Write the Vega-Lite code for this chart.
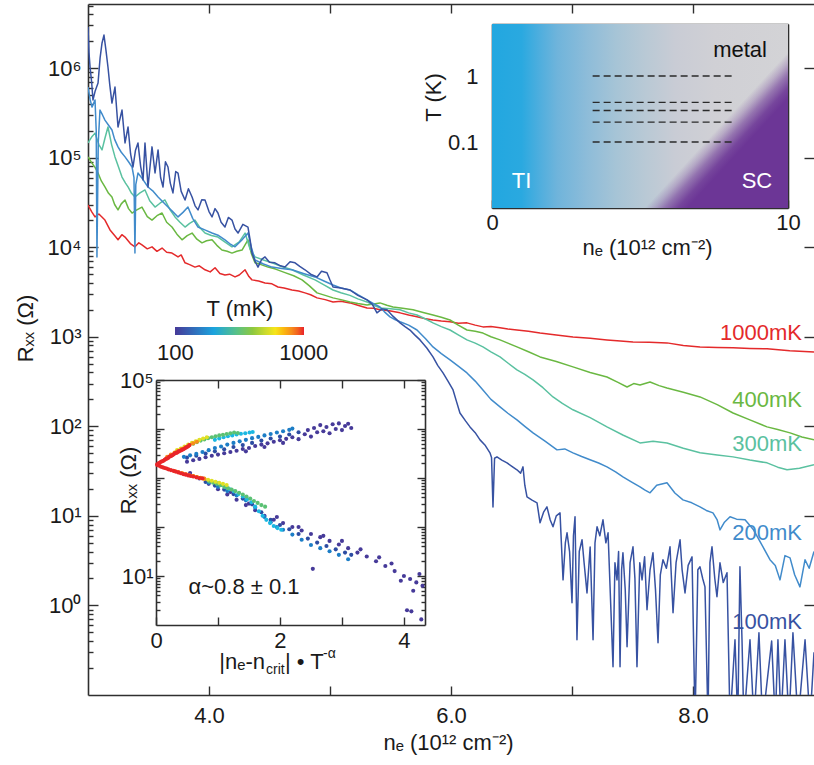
{
"$schema": "https://vega.github.io/schema/vega-lite/v6.json",
"width": 726, "height": 691,
"autosize": {"type": "none"},
"padding": {"left": 88, "top": 4, "right": 0, "bottom": 70},
"background": "white",
"config": {
 "view": {"stroke": null},
 "font": "Liberation Sans",
 "axis": {"domainColor": "#2f2f2f", "domainWidth": 1.6, "tickColor": "#2f2f2f", "tickWidth": 1.4, "labelColor": "#1a1a1a", "titleColor": "#1a1a1a", "labelFontSize": 22, "titleFontSize": 22, "titleFontWeight": "normal", "labelFont": "Liberation Sans", "titleFont": "Liberation Sans", "grid": false, "zindex": 1}
},
"datasets": {
 "curves": [
  {"T":1000,"ne":3.0,"R":29600},{"T":1000,"ne":3.03,"R":25000},{"T":1000,"ne":3.058,"R":21800},{"T":1000,"ne":3.09,"R":23500},{"T":1000,"ne":3.14,"R":20100},{"T":1000,"ne":3.182,"R":15600},{"T":1000,"ne":3.22,"R":13500},{"T":1000,"ne":3.248,"R":12100},{"T":1000,"ne":3.28,"R":13800},{"T":1000,"ne":3.306,"R":13000},{"T":1000,"ne":3.35,"R":11000},{"T":1000,"ne":3.388,"R":10100},{"T":1000,"ne":3.42,"R":11200},{"T":1000,"ne":3.446,"R":10600},{"T":1000,"ne":3.49,"R":9600},{"T":1000,"ne":3.529,"R":10100},{"T":1000,"ne":3.57,"R":9000},{"T":1000,"ne":3.612,"R":9800},{"T":1000,"ne":3.65,"R":8800},{"T":1000,"ne":3.694,"R":8600},{"T":1000,"ne":3.744,"R":7800},{"T":1000,"ne":3.77,"R":8200},{"T":1000,"ne":3.802,"R":6700},{"T":1000,"ne":3.84,"R":6400},{"T":1000,"ne":3.884,"R":6000},{"T":1000,"ne":3.92,"R":6200},{"T":1000,"ne":3.967,"R":5600},{"T":1000,"ne":4.01,"R":5300},{"T":1000,"ne":4.05,"R":5900},{"T":1000,"ne":4.09,"R":5100},{"T":1000,"ne":4.132,"R":4900},{"T":1000,"ne":4.17,"R":5000},{"T":1000,"ne":4.215,"R":4660},{"T":1000,"ne":4.25,"R":4900},{"T":1000,"ne":4.298,"R":5600},{"T":1000,"ne":4.33,"R":4700},{"T":1000,"ne":4.355,"R":4320},{"T":1000,"ne":4.41,"R":4200},{"T":1000,"ne":4.463,"R":3990},{"T":1000,"ne":4.52,"R":3900},{"T":1000,"ne":4.57,"R":3600},{"T":1000,"ne":4.62,"R":3500},{"T":1000,"ne":4.686,"R":3330},{"T":1000,"ne":4.74,"R":3250},{"T":1000,"ne":4.793,"R":3090},{"T":1000,"ne":4.84,"R":2950},{"T":1000,"ne":4.893,"R":2720},{"T":1000,"ne":4.96,"R":2600},{"T":1000,"ne":5.025,"R":2450},{"T":1000,"ne":5.09,"R":2500},{"T":1000,"ne":5.165,"R":2390},{"T":1000,"ne":5.23,"R":2250},{"T":1000,"ne":5.306,"R":2100},{"T":1000,"ne":5.36,"R":2080},{"T":1000,"ne":5.413,"R":2000},{"T":1000,"ne":5.49,"R":1950},{"T":1000,"ne":5.579,"R":1850},{"T":1000,"ne":5.65,"R":1750},{"T":1000,"ne":5.719,"R":1670},{"T":1000,"ne":5.78,"R":1600},{"T":1000,"ne":5.851,"R":1540},{"T":1000,"ne":5.92,"R":1500},{"T":1000,"ne":5.992,"R":1470},{"T":1000,"ne":6.06,"R":1420},{"T":1000,"ne":6.132,"R":1430},{"T":1000,"ne":6.2,"R":1350},{"T":1000,"ne":6.264,"R":1290},{"T":1000,"ne":6.33,"R":1300},{"T":1000,"ne":6.405,"R":1260},{"T":1000,"ne":6.47,"R":1220},{"T":1000,"ne":6.545,"R":1190},{"T":1000,"ne":6.64,"R":1150},{"T":1000,"ne":6.736,"R":1100},{"T":1000,"ne":6.87,"R":1050},{"T":1000,"ne":7.008,"R":995},{"T":1000,"ne":7.15,"R":960},{"T":1000,"ne":7.289,"R":923},{"T":1000,"ne":7.4,"R":900},{"T":1000,"ne":7.504,"R":877},{"T":1000,"ne":7.64,"R":870},{"T":1000,"ne":7.785,"R":855},{"T":1000,"ne":7.92,"R":800},{"T":1000,"ne":8.058,"R":771},{"T":1000,"ne":8.2,"R":760},{"T":1000,"ne":8.331,"R":752},{"T":1000,"ne":8.47,"R":740},{"T":1000,"ne":8.612,"R":733},{"T":1000,"ne":8.8,"R":700},{"T":1000,"ne":9.0,"R":678},
  {"T":400,"ne":3.0,"R":102000},{"T":400,"ne":3.033,"R":87000},{"T":400,"ne":3.058,"R":78000},{"T":400,"ne":3.083,"R":67400},{"T":400,"ne":3.11,"R":55000},{"T":400,"ne":3.14,"R":47100},{"T":400,"ne":3.17,"R":40000},{"T":400,"ne":3.198,"R":36400},{"T":400,"ne":3.22,"R":30000},{"T":400,"ne":3.248,"R":26100},{"T":400,"ne":3.275,"R":30500},{"T":400,"ne":3.306,"R":33700},{"T":400,"ne":3.335,"R":27000},{"T":400,"ne":3.364,"R":24100},{"T":400,"ne":3.4,"R":26000},{"T":400,"ne":3.446,"R":28100},{"T":400,"ne":3.49,"R":22000},{"T":400,"ne":3.529,"R":20100},{"T":400,"ne":3.57,"R":22500},{"T":400,"ne":3.612,"R":24100},{"T":400,"ne":3.65,"R":19000},{"T":400,"ne":3.694,"R":16800},{"T":400,"ne":3.735,"R":14000},{"T":400,"ne":3.777,"R":12100},{"T":400,"ne":3.82,"R":13500},{"T":400,"ne":3.86,"R":14400},{"T":400,"ne":3.9,"R":12300},{"T":400,"ne":3.942,"R":11200},{"T":400,"ne":3.98,"R":11800},{"T":400,"ne":4.025,"R":12100},{"T":400,"ne":4.065,"R":10500},{"T":400,"ne":4.107,"R":9300},{"T":400,"ne":4.15,"R":9000},{"T":400,"ne":4.19,"R":8600},{"T":400,"ne":4.23,"R":9000},{"T":400,"ne":4.273,"R":9300},{"T":400,"ne":4.322,"R":12100},{"T":400,"ne":4.35,"R":8500},{"T":400,"ne":4.38,"R":6700},{"T":400,"ne":4.43,"R":6400},{"T":400,"ne":4.488,"R":6000},{"T":400,"ne":4.55,"R":5700},{"T":400,"ne":4.628,"R":5200},{"T":400,"ne":4.7,"R":4800},{"T":400,"ne":4.769,"R":4320},{"T":400,"ne":4.83,"R":3700},{"T":400,"ne":4.893,"R":3090},{"T":400,"ne":4.96,"R":2900},{"T":400,"ne":5.025,"R":2720},{"T":400,"ne":5.09,"R":2600},{"T":400,"ne":5.165,"R":2450},{"T":400,"ne":5.23,"R":2350},{"T":400,"ne":5.306,"R":2270},{"T":400,"ne":5.36,"R":2330},{"T":400,"ne":5.413,"R":2390},{"T":400,"ne":5.47,"R":2250},{"T":400,"ne":5.521,"R":2150},{"T":400,"ne":5.6,"R":2080},{"T":400,"ne":5.686,"R":2000},{"T":400,"ne":5.77,"R":1870},{"T":400,"ne":5.851,"R":1750},{"T":400,"ne":5.92,"R":1650},{"T":400,"ne":5.992,"R":1540},{"T":400,"ne":6.06,"R":1350},{"T":400,"ne":6.132,"R":1190},{"T":400,"ne":6.2,"R":1150},{"T":400,"ne":6.264,"R":1100},{"T":400,"ne":6.33,"R":1000},{"T":400,"ne":6.405,"R":923},{"T":400,"ne":6.47,"R":850},{"T":400,"ne":6.545,"R":771},{"T":400,"ne":6.64,"R":680},{"T":400,"ne":6.736,"R":596},{"T":400,"ne":6.87,"R":530},{"T":400,"ne":7.008,"R":461},{"T":400,"ne":7.15,"R":400},{"T":400,"ne":7.289,"R":356},{"T":400,"ne":7.38,"R":310},{"T":400,"ne":7.455,"R":275},{"T":400,"ne":7.51,"R":300},{"T":400,"ne":7.562,"R":290},{"T":400,"ne":7.645,"R":313},{"T":400,"ne":7.72,"R":285},{"T":400,"ne":7.785,"R":268},{"T":400,"ne":7.92,"R":240},{"T":400,"ne":8.058,"R":213},{"T":400,"ne":8.2,"R":175},{"T":400,"ne":8.331,"R":141},{"T":400,"ne":8.47,"R":118},{"T":400,"ne":8.612,"R":98.6},{"T":400,"ne":8.7,"R":92},{"T":400,"ne":8.802,"R":84.5},{"T":400,"ne":8.9,"R":76},{"T":400,"ne":9.0,"R":70.6},
  {"T":300,"ne":3.0,"R":146000},{"T":300,"ne":3.03,"R":170000},{"T":300,"ne":3.058,"R":188000},{"T":300,"ne":3.09,"R":140000},{"T":300,"ne":3.116,"R":122000},{"T":300,"ne":3.14,"R":165000},{"T":300,"ne":3.165,"R":220000},{"T":300,"ne":3.195,"R":140000},{"T":300,"ne":3.223,"R":102000},{"T":300,"ne":3.25,"R":80000},{"T":300,"ne":3.281,"R":60800},{"T":300,"ne":3.31,"R":52000},{"T":300,"ne":3.331,"R":47100},{"T":300,"ne":3.36,"R":40000},{"T":300,"ne":3.388,"R":36400},{"T":300,"ne":3.43,"R":40500},{"T":300,"ne":3.471,"R":43600},{"T":300,"ne":3.51,"R":33000},{"T":300,"ne":3.554,"R":28100},{"T":300,"ne":3.595,"R":31000},{"T":300,"ne":3.636,"R":33700},{"T":300,"ne":3.68,"R":26000},{"T":300,"ne":3.719,"R":21800},{"T":300,"ne":3.76,"R":19000},{"T":300,"ne":3.802,"R":16800},{"T":300,"ne":3.84,"R":18500},{"T":300,"ne":3.884,"R":20100},{"T":300,"ne":3.925,"R":16500},{"T":300,"ne":3.967,"R":14400},{"T":300,"ne":4.02,"R":13500},{"T":300,"ne":4.074,"R":13000},{"T":300,"ne":4.13,"R":11500},{"T":300,"ne":4.19,"R":10100},{"T":300,"ne":4.25,"R":11500},{"T":300,"ne":4.298,"R":14400},{"T":300,"ne":4.34,"R":9500},{"T":300,"ne":4.38,"R":7800},{"T":300,"ne":4.45,"R":7200},{"T":300,"ne":4.521,"R":6700},{"T":300,"ne":4.6,"R":6100},{"T":300,"ne":4.686,"R":5600},{"T":300,"ne":4.78,"R":4900},{"T":300,"ne":4.876,"R":4320},{"T":300,"ne":4.95,"R":3800},{"T":300,"ne":5.025,"R":3330},{"T":300,"ne":5.09,"R":3100},{"T":300,"ne":5.165,"R":2900},{"T":300,"ne":5.23,"R":2650},{"T":300,"ne":5.306,"R":2450},{"T":300,"ne":5.36,"R":2250},{"T":300,"ne":5.413,"R":2100},{"T":300,"ne":5.5,"R":2050},{"T":300,"ne":5.579,"R":2000},{"T":300,"ne":5.65,"R":1850},{"T":300,"ne":5.719,"R":1750},{"T":300,"ne":5.79,"R":1580},{"T":300,"ne":5.851,"R":1430},{"T":300,"ne":5.92,"R":1300},{"T":300,"ne":5.992,"R":1190},{"T":300,"ne":6.06,"R":1050},{"T":300,"ne":6.132,"R":923},{"T":300,"ne":6.2,"R":850},{"T":300,"ne":6.264,"R":771},{"T":300,"ne":6.33,"R":680},{"T":300,"ne":6.405,"R":596},{"T":300,"ne":6.47,"R":510},{"T":300,"ne":6.545,"R":427},{"T":300,"ne":6.61,"R":380},{"T":300,"ne":6.678,"R":330},{"T":300,"ne":6.76,"R":270},{"T":300,"ne":6.843,"R":213},{"T":300,"ne":6.92,"R":180},{"T":300,"ne":7.008,"R":153},{"T":300,"ne":7.15,"R":125},{"T":300,"ne":7.289,"R":98.6},{"T":300,"ne":7.42,"R":80},{"T":300,"ne":7.562,"R":65.3},{"T":300,"ne":7.67,"R":68},{"T":300,"ne":7.785,"R":65.3},{"T":300,"ne":7.92,"R":57},{"T":300,"ne":8.058,"R":50.6},{"T":300,"ne":8.2,"R":48},{"T":300,"ne":8.331,"R":45.6},{"T":300,"ne":8.47,"R":42},{"T":300,"ne":8.612,"R":39.1},{"T":300,"ne":8.7,"R":35},{"T":300,"ne":8.777,"R":32.7},{"T":300,"ne":8.88,"R":34},{"T":300,"ne":9.0,"R":37.2},
  {"T":200,"ne":3.0,"R":615000},{"T":200,"ne":3.017,"R":450000},{"T":200,"ne":3.033,"R":367000},{"T":200,"ne":3.058,"R":440000},{"T":200,"ne":3.068,"R":200000},{"T":200,"ne":3.074,"R":7800},{"T":200,"ne":3.085,"R":150000},{"T":200,"ne":3.099,"R":340000},{"T":200,"ne":3.12,"R":300000},{"T":200,"ne":3.14,"R":263000},{"T":200,"ne":3.17,"R":230000},{"T":200,"ne":3.198,"R":204000},{"T":200,"ne":3.22,"R":160000},{"T":200,"ne":3.248,"R":132000},{"T":200,"ne":3.275,"R":115000},{"T":200,"ne":3.306,"R":102000},{"T":200,"ne":3.335,"R":90000},{"T":200,"ne":3.364,"R":78700},{"T":200,"ne":3.38,"R":60000},{"T":200,"ne":3.388,"R":8600},{"T":200,"ne":3.395,"R":50000},{"T":200,"ne":3.413,"R":67400},{"T":200,"ne":3.45,"R":58000},{"T":200,"ne":3.496,"R":47100},{"T":200,"ne":3.54,"R":42000},{"T":200,"ne":3.579,"R":36400},{"T":200,"ne":3.62,"R":32000},{"T":200,"ne":3.661,"R":28100},{"T":200,"ne":3.7,"R":25000},{"T":200,"ne":3.744,"R":21800},{"T":200,"ne":3.785,"R":24500},{"T":200,"ne":3.826,"R":28100},{"T":200,"ne":3.865,"R":21000},{"T":200,"ne":3.909,"R":16800},{"T":200,"ne":3.97,"R":15500},{"T":200,"ne":4.025,"R":14400},{"T":200,"ne":4.08,"R":13500},{"T":200,"ne":4.132,"R":12100},{"T":200,"ne":4.17,"R":11000},{"T":200,"ne":4.215,"R":10100},{"T":200,"ne":4.27,"R":12000},{"T":200,"ne":4.322,"R":14400},{"T":200,"ne":4.35,"R":10000},{"T":200,"ne":4.38,"R":7200},{"T":200,"ne":4.45,"R":6500},{"T":200,"ne":4.521,"R":6000},{"T":200,"ne":4.6,"R":5800},{"T":200,"ne":4.686,"R":5600},{"T":200,"ne":4.78,"R":5100},{"T":200,"ne":4.876,"R":4660},{"T":200,"ne":4.95,"R":4200},{"T":200,"ne":5.025,"R":3790},{"T":200,"ne":5.09,"R":3500},{"T":200,"ne":5.165,"R":3330},{"T":200,"ne":5.23,"R":2950},{"T":200,"ne":5.306,"R":2580},{"T":200,"ne":5.36,"R":2350},{"T":200,"ne":5.413,"R":2150},{"T":200,"ne":5.45,"R":1900},{"T":200,"ne":5.496,"R":1670},{"T":200,"ne":5.54,"R":1550},{"T":200,"ne":5.579,"R":1470},{"T":200,"ne":5.65,"R":1350},{"T":200,"ne":5.719,"R":1190},{"T":200,"ne":5.79,"R":950},{"T":200,"ne":5.851,"R":771},{"T":200,"ne":5.92,"R":650},{"T":200,"ne":5.992,"R":552},{"T":200,"ne":6.06,"R":470},{"T":200,"ne":6.132,"R":395},{"T":200,"ne":6.2,"R":320},{"T":200,"ne":6.264,"R":255},{"T":200,"ne":6.33,"R":200},{"T":200,"ne":6.405,"R":165},{"T":200,"ne":6.47,"R":140},{"T":200,"ne":6.545,"R":118},{"T":200,"ne":6.61,"R":100},{"T":200,"ne":6.678,"R":84.5},{"T":200,"ne":6.78,"R":68},{"T":200,"ne":6.876,"R":54.6},{"T":200,"ne":6.94,"R":56},{"T":200,"ne":7.008,"R":50.6},{"T":200,"ne":7.08,"R":46},{"T":200,"ne":7.149,"R":42.3},{"T":200,"ne":7.22,"R":39},{"T":200,"ne":7.289,"R":35.3},{"T":200,"ne":7.36,"R":31},{"T":200,"ne":7.421,"R":27.3},{"T":200,"ne":7.49,"R":24},{"T":200,"ne":7.562,"R":21.1},{"T":200,"ne":7.6,"R":19.5},{"T":200,"ne":7.645,"R":18.1},{"T":200,"ne":7.7,"R":22},{"T":200,"ne":7.785,"R":23.4},{"T":200,"ne":7.85,"R":18},{"T":200,"ne":7.917,"R":15.1},{"T":200,"ne":7.99,"R":14},{"T":200,"ne":8.058,"R":12.6},{"T":200,"ne":8.11,"R":11.5},{"T":200,"ne":8.165,"R":10.8},{"T":200,"ne":8.2,"R":9},{"T":200,"ne":8.223,"R":6.98},{"T":200,"ne":8.26,"R":8.5},{"T":200,"ne":8.306,"R":9.77},{"T":200,"ne":8.36,"R":9.2},{"T":200,"ne":8.43,"R":9.04},{"T":200,"ne":8.5,"R":7},{"T":200,"ne":8.56,"R":5},{"T":200,"ne":8.636,"R":3.24},{"T":200,"ne":8.68,"R":2.8},{"T":200,"ne":8.719,"R":1.93},{"T":200,"ne":8.76,"R":3.6},{"T":200,"ne":8.802,"R":3.4},{"T":200,"ne":8.84,"R":2.2},{"T":200,"ne":8.884,"R":1.61},{"T":200,"ne":8.926,"R":3.24},{"T":200,"ne":8.96,"R":2.6},{"T":200,"ne":9.0,"R":4.0},
  {"T":100,"ne":3.0,"R":2870000},{"T":100,"ne":3.008,"R":1500000},{"T":100,"ne":3.017,"R":1030000},{"T":100,"ne":3.03,"R":700000},{"T":100,"ne":3.041,"R":440000},{"T":100,"ne":3.06,"R":560000},{"T":100,"ne":3.083,"R":681000},{"T":100,"ne":3.1,"R":1300000},{"T":100,"ne":3.116,"R":1910000},{"T":100,"ne":3.132,"R":2340000},{"T":100,"ne":3.148,"R":1600000},{"T":100,"ne":3.165,"R":1030000},{"T":100,"ne":3.18,"R":650000},{"T":100,"ne":3.198,"R":407000},{"T":100,"ne":3.223,"R":615000},{"T":100,"ne":3.248,"R":220000},{"T":100,"ne":3.281,"R":340000},{"T":100,"ne":3.306,"R":146000},{"T":100,"ne":3.331,"R":220000},{"T":100,"ne":3.352,"R":110000},{"T":100,"ne":3.372,"R":78700},{"T":100,"ne":3.392,"R":120000},{"T":100,"ne":3.413,"R":146000},{"T":100,"ne":3.435,"R":80000},{"T":100,"ne":3.455,"R":56400},{"T":100,"ne":3.471,"R":146000},{"T":100,"ne":3.496,"R":47100},{"T":100,"ne":3.529,"R":132000},{"T":100,"ne":3.554,"R":67400},{"T":100,"ne":3.579,"R":122000},{"T":100,"ne":3.6,"R":60000},{"T":100,"ne":3.62,"R":47100},{"T":100,"ne":3.64,"R":90000},{"T":100,"ne":3.661,"R":78700},{"T":100,"ne":3.68,"R":52000},{"T":100,"ne":3.702,"R":40400},{"T":100,"ne":3.725,"R":70000},{"T":100,"ne":3.744,"R":67400},{"T":100,"ne":3.77,"R":42000},{"T":100,"ne":3.802,"R":33700},{"T":100,"ne":3.83,"R":45000},{"T":100,"ne":3.86,"R":36400},{"T":100,"ne":3.885,"R":29000},{"T":100,"ne":3.909,"R":26100},{"T":100,"ne":3.94,"R":34000},{"T":100,"ne":3.967,"R":33700},{"T":100,"ne":4.0,"R":25000},{"T":100,"ne":4.025,"R":21800},{"T":100,"ne":4.05,"R":27000},{"T":100,"ne":4.074,"R":24100},{"T":100,"ne":4.1,"R":19000},{"T":100,"ne":4.132,"R":16800},{"T":100,"ne":4.16,"R":21500},{"T":100,"ne":4.19,"R":20100},{"T":100,"ne":4.215,"R":16000},{"T":100,"ne":4.24,"R":14400},{"T":100,"ne":4.28,"R":18000},{"T":100,"ne":4.322,"R":16800},{"T":100,"ne":4.34,"R":12000},{"T":100,"ne":4.355,"R":8600},{"T":100,"ne":4.38,"R":7000},{"T":100,"ne":4.405,"R":6000},{"T":100,"ne":4.435,"R":7300},{"T":100,"ne":4.463,"R":7800},{"T":100,"ne":4.5,"R":6800},{"T":100,"ne":4.545,"R":6700},{"T":100,"ne":4.59,"R":6200},{"T":100,"ne":4.628,"R":6000},{"T":100,"ne":4.67,"R":6900},{"T":100,"ne":4.711,"R":6700},{"T":100,"ne":4.75,"R":6100},{"T":100,"ne":4.793,"R":5600},{"T":100,"ne":4.84,"R":5000},{"T":100,"ne":4.893,"R":4660},{"T":100,"ne":4.93,"R":5400},{"T":100,"ne":4.975,"R":5200},{"T":100,"ne":5.0,"R":4300},{"T":100,"ne":5.025,"R":3600},{"T":100,"ne":5.09,"R":3500},{"T":100,"ne":5.165,"R":3330},{"T":100,"ne":5.23,"R":2900},{"T":100,"ne":5.306,"R":2580},{"T":100,"ne":5.35,"R":2300},{"T":100,"ne":5.388,"R":1850},{"T":100,"ne":5.43,"R":2050},{"T":100,"ne":5.471,"R":2000},{"T":100,"ne":5.52,"R":1700},{"T":100,"ne":5.579,"R":1430},{"T":100,"ne":5.62,"R":1300},{"T":100,"ne":5.661,"R":1190},{"T":100,"ne":5.7,"R":1050},{"T":100,"ne":5.744,"R":923},{"T":100,"ne":5.8,"R":750},{"T":100,"ne":5.851,"R":596},{"T":100,"ne":5.89,"R":480},{"T":100,"ne":5.934,"R":395},{"T":100,"ne":5.975,"R":320},{"T":100,"ne":6.017,"R":255},{"T":100,"ne":6.045,"R":190},{"T":100,"ne":6.074,"R":141},{"T":100,"ne":6.12,"R":115},{"T":100,"ne":6.157,"R":98.6},{"T":100,"ne":6.2,"R":85},{"T":100,"ne":6.24,"R":70.6},{"T":100,"ne":6.28,"R":62},{"T":100,"ne":6.322,"R":50.6},{"T":100,"ne":6.335,"R":45},{"T":100,"ne":6.347,"R":12.6},{"T":100,"ne":6.36,"R":44},{"T":100,"ne":6.38,"R":45.6},{"T":100,"ne":6.42,"R":42},{"T":100,"ne":6.463,"R":39.1},{"T":100,"ne":6.5,"R":36},{"T":100,"ne":6.545,"R":32.7},{"T":100,"ne":6.575,"R":30},{"T":100,"ne":6.595,"R":35.3},{"T":100,"ne":6.61,"R":22},{"T":100,"ne":6.628,"R":16.3},{"T":100,"ne":6.67,"R":15},{"T":100,"ne":6.711,"R":14.0},{"T":100,"ne":6.736,"R":8.37},{"T":100,"ne":6.765,"R":11},{"T":100,"ne":6.793,"R":12.6},{"T":100,"ne":6.82,"R":9},{"T":100,"ne":6.843,"R":7.55},{"T":100,"ne":6.87,"R":10},{"T":100,"ne":6.901,"R":10.8},{"T":100,"ne":6.926,"R":1.93},{"T":100,"ne":6.945,"R":5},{"T":100,"ne":6.959,"R":6.47},{"T":100,"ne":6.98,"R":4},{"T":100,"ne":7.0,"R":1.07},{"T":100,"ne":7.012,"R":6},{"T":100,"ne":7.025,"R":9.77},{"T":100,"ne":7.041,"R":0.414},{"T":100,"ne":7.06,"R":4},{"T":100,"ne":7.083,"R":5.41},{"T":100,"ne":7.1,"R":3},{"T":100,"ne":7.124,"R":1.38},{"T":100,"ne":7.15,"R":4.5},{"T":100,"ne":7.174,"R":0.414},{"T":100,"ne":7.19,"R":5},{"T":100,"ne":7.207,"R":7.55},{"T":100,"ne":7.23,"R":6},{"T":100,"ne":7.256,"R":9.04},{"T":100,"ne":7.28,"R":5},{"T":100,"ne":7.298,"R":6.47},{"T":100,"ne":7.339,"R":0.207},{"T":100,"ne":7.355,"R":3},{"T":100,"ne":7.372,"R":1.93},{"T":100,"ne":7.385,"R":4},{"T":100,"ne":7.397,"R":0.207},{"T":100,"ne":7.41,"R":2.5},{"T":100,"ne":7.421,"R":3.87},{"T":100,"ne":7.44,"R":1.5},{"T":100,"ne":7.455,"R":0.346},{"T":100,"ne":7.48,"R":3},{"T":100,"ne":7.504,"R":4.52},{"T":100,"ne":7.52,"R":2},{"T":100,"ne":7.537,"R":0.207},{"T":100,"ne":7.56,"R":3},{"T":100,"ne":7.579,"R":1.93},{"T":100,"ne":7.6,"R":3.5},{"T":100,"ne":7.62,"R":0.895},{"T":100,"ne":7.645,"R":2.5},{"T":100,"ne":7.669,"R":3.87},{"T":100,"ne":7.69,"R":1.5},{"T":100,"ne":7.711,"R":0.383},{"T":100,"ne":7.73,"R":2.2},{"T":100,"ne":7.752,"R":3.24},{"T":100,"ne":7.78,"R":2.6},{"T":100,"ne":7.81,"R":4.52},{"T":100,"ne":7.835,"R":0.828},{"T":100,"ne":7.86,"R":3},{"T":100,"ne":7.893,"R":5.41},{"T":100,"ne":7.91,"R":2.5},{"T":100,"ne":7.934,"R":1.38},{"T":100,"ne":7.96,"R":2.8},{"T":100,"ne":7.992,"R":3.49},{"T":100,"ne":8.017,"R":0.05},{"T":100,"ne":8.04,"R":2.5},{"T":100,"ne":8.058,"R":2.7},{"T":100,"ne":8.08,"R":2},{"T":100,"ne":8.099,"R":1.61},{"T":100,"ne":8.124,"R":0.05},{"T":100,"ne":8.14,"R":3},{"T":100,"ne":8.157,"R":4.52},{"T":100,"ne":8.18,"R":2},{"T":100,"ne":8.198,"R":1.25},{"T":100,"ne":8.223,"R":2.99},{"T":100,"ne":8.25,"R":1.8},{"T":100,"ne":8.281,"R":2.32},{"T":100,"ne":8.306,"R":0.05},{"T":100,"ne":8.347,"R":0.414},{"T":100,"ne":8.37,"R":0.05},{"T":100,"ne":8.388,"R":2.7},{"T":100,"ne":8.405,"R":0.414},{"T":100,"ne":8.42,"R":0.05},{"T":100,"ne":8.471,"R":0.414},{"T":100,"ne":8.504,"R":0.05},{"T":100,"ne":8.545,"R":0.495},{"T":100,"ne":8.575,"R":0.05},{"T":100,"ne":8.65,"R":0.4},{"T":100,"ne":8.68,"R":0.05},{"T":100,"ne":8.702,"R":0.414},{"T":100,"ne":8.727,"R":0.05},{"T":100,"ne":8.76,"R":0.414},{"T":100,"ne":8.793,"R":0.05},{"T":100,"ne":8.826,"R":0.495},{"T":100,"ne":8.868,"R":0.05},{"T":100,"ne":8.926,"R":0.414},{"T":100,"ne":8.967,"R":0.05},{"T":100,"ne":9.0,"R":0.3}
 ],
 "lineLabels": [
  {"lab":"1000mK","T":1000,"ne":8.9,"R":1104},
  {"lab":"400mK","T":400,"ne":8.9,"R":197},
  {"lab":"300mK","T":300,"ne":8.9,"R":63.7},
  {"lab":"200mK","T":200,"ne":8.9,"R":6.47},
  {"lab":"100mK","T":100,"ne":8.9,"R":0.657}
 ],
 "phase": [{"n0":0,"n1":10,"t0":0.01,"t1":6.14}],
 "dashes": [
  {"T":1,"n0":3.4,"n1":8.15},{"T":0.4,"n0":3.4,"n1":8.15},{"T":0.3,"n0":3.4,"n1":8.15},{"T":0.2,"n0":3.4,"n1":8.15},{"T":0.1,"n0":3.4,"n1":8.15}
 ],
 "scatter": [
  {"T":100,"u":0.5,"R":2150},{"T":100,"u":0.6,"R":2300},{"T":100,"u":0.7,"R":2450},{"T":100,"u":0.8,"R":2650},{"T":100,"u":0.9,"R":2850},{"T":100,"u":1.0,"R":3000},{"T":100,"u":1.1,"R":3200},{"T":100,"u":1.2,"R":3400},{"T":100,"u":1.3,"R":3600},{"T":100,"u":1.4,"R":3900},{"T":100,"u":1.45,"R":3500},{"T":100,"u":1.5,"R":4100},{"T":100,"u":1.6,"R":4500},{"T":100,"u":1.7,"R":4800},{"T":100,"u":1.75,"R":4300},{"T":100,"u":1.8,"R":5100},{"T":100,"u":1.9,"R":5500},{"T":100,"u":2.0,"R":5900},{"T":100,"u":2.05,"R":5200},{"T":100,"u":2.1,"R":6300},{"T":100,"u":2.2,"R":6800},{"T":100,"u":2.3,"R":6200},{"T":100,"u":2.4,"R":7800},{"T":100,"u":2.45,"R":9500},{"T":100,"u":2.5,"R":7000},{"T":100,"u":2.55,"R":10500},{"T":100,"u":2.6,"R":8600},{"T":100,"u":2.65,"R":12000},{"T":100,"u":2.7,"R":9000},{"T":100,"u":2.75,"R":11000},{"T":100,"u":2.8,"R":8200},{"T":100,"u":2.85,"R":12500},{"T":100,"u":2.9,"R":10000},{"T":100,"u":2.95,"R":13000},{"T":100,"u":3.0,"R":9500},{"T":100,"u":3.05,"R":11500},{"T":100,"u":3.1,"R":12800},{"T":100,"u":3.15,"R":10500},
  {"T":100,"u":0.55,"R":1260},{"T":100,"u":0.7,"R":980},{"T":100,"u":0.85,"R":760},{"T":100,"u":1.0,"R":590},{"T":100,"u":1.15,"R":460},{"T":100,"u":1.2,"R":520},{"T":100,"u":1.3,"R":360},{"T":100,"u":1.45,"R":280},{"T":100,"u":1.5,"R":300},{"T":100,"u":1.6,"R":220},{"T":100,"u":1.75,"R":170},{"T":100,"u":1.9,"R":141},{"T":100,"u":1.95,"R":160},{"T":100,"u":2.05,"R":120},{"T":100,"u":2.2,"R":100},{"T":100,"u":2.3,"R":100},{"T":100,"u":2.35,"R":85},{"T":100,"u":2.5,"R":72},{"T":100,"u":2.53,"R":14},{"T":100,"u":2.65,"R":62},{"T":100,"u":2.7,"R":66},{"T":100,"u":2.8,"R":52},{"T":100,"u":2.95,"R":44},{"T":100,"u":3.0,"R":52},{"T":100,"u":3.1,"R":37},{"T":100,"u":3.25,"R":30},{"T":100,"u":3.3,"R":35},{"T":100,"u":3.4,"R":25},{"T":100,"u":3.55,"R":20},{"T":100,"u":3.6,"R":24},{"T":100,"u":3.7,"R":16},{"T":100,"u":3.8,"R":18},{"T":100,"u":3.85,"R":12.6},{"T":100,"u":3.95,"R":8},{"T":100,"u":4.0,"R":10},{"T":100,"u":4.05,"R":2.0},{"T":100,"u":4.1,"R":8.7},{"T":100,"u":4.12,"R":1.9},{"T":100,"u":4.15,"R":5},{"T":100,"u":4.2,"R":7.4},{"T":100,"u":4.25,"R":11},{"T":100,"u":4.28,"R":1.3},{"T":100,"u":4.3,"R":6.3},
  {"T":130,"u":0.5,"R":2600},{"T":130,"u":0.65,"R":2850},{"T":130,"u":0.8,"R":3150},{"T":130,"u":0.95,"R":3500},{"T":130,"u":1.1,"R":3850},{"T":130,"u":1.25,"R":4300},{"T":130,"u":1.4,"R":4700},{"T":130,"u":1.55,"R":5200},{"T":130,"u":1.7,"R":5800},{"T":130,"u":1.85,"R":6400},{"T":130,"u":2.0,"R":7000},{"T":130,"u":2.15,"R":7700},{"T":130,"u":2.3,"R":8600},
  {"T":130,"u":0.8,"R":830},{"T":130,"u":0.95,"R":700},{"T":130,"u":1.1,"R":580},{"T":130,"u":1.25,"R":470},{"T":130,"u":1.4,"R":380},{"T":130,"u":1.55,"R":290},{"T":130,"u":1.7,"R":200},{"T":130,"u":1.85,"R":140},{"T":130,"u":2.0,"R":110},{"T":130,"u":2.15,"R":90},{"T":130,"u":2.3,"R":72},{"T":130,"u":2.45,"R":58},{"T":130,"u":2.6,"R":48},{"T":130,"u":2.75,"R":41},{"T":130,"u":2.9,"R":35},{"T":130,"u":3.05,"R":30},{"T":130,"u":3.15,"R":27},
  {"T":170,"u":0.45,"R":2700},{"T":170,"u":0.55,"R":2900},{"T":170,"u":0.65,"R":3100},{"T":170,"u":0.75,"R":3400},{"T":170,"u":0.85,"R":3700},{"T":170,"u":0.95,"R":4100},{"T":170,"u":1.05,"R":4400},{"T":170,"u":1.15,"R":4800},{"T":170,"u":1.25,"R":5200},{"T":170,"u":1.35,"R":5600},{"T":170,"u":1.45,"R":6000},{"T":170,"u":1.55,"R":6500},{"T":170,"u":1.65,"R":6900},{"T":170,"u":1.75,"R":7400},{"T":170,"u":1.85,"R":7900},{"T":170,"u":1.95,"R":8500},{"T":170,"u":2.05,"R":9000},{"T":170,"u":2.15,"R":9600},{"T":170,"u":2.2,"R":10200},
  {"T":170,"u":0.85,"R":800},{"T":170,"u":1.0,"R":660},{"T":170,"u":1.15,"R":540},{"T":170,"u":1.3,"R":440},{"T":170,"u":1.45,"R":350},{"T":170,"u":1.6,"R":250},{"T":170,"u":1.75,"R":160},{"T":170,"u":1.85,"R":125},{"T":170,"u":1.95,"R":100},{"T":170,"u":2.05,"R":88},{"T":170,"u":2.2,"R":70},{"T":170,"u":2.35,"R":55},{"T":170,"u":2.5,"R":43},{"T":170,"u":2.65,"R":37},{"T":170,"u":2.8,"R":32},{"T":170,"u":2.95,"R":27},{"T":170,"u":3.1,"R":22},
  {"T":220,"u":0.95,"R":6000},{"T":220,"u":1.02,"R":6400},{"T":220,"u":1.09,"R":6800},{"T":220,"u":1.16,"R":7100},{"T":220,"u":1.23,"R":7400},{"T":220,"u":1.3,"R":7700},{"T":220,"u":1.37,"R":8000},{"T":220,"u":1.44,"R":8200},{"T":220,"u":1.51,"R":8500},{"T":220,"u":1.56,"R":8700},
  {"T":220,"u":0.98,"R":790},{"T":220,"u":1.05,"R":720},{"T":220,"u":1.12,"R":650},{"T":220,"u":1.19,"R":590},{"T":220,"u":1.26,"R":530},{"T":220,"u":1.33,"R":470},{"T":220,"u":1.4,"R":420},{"T":220,"u":1.47,"R":370},{"T":220,"u":1.54,"R":320},{"T":220,"u":1.6,"R":260},{"T":220,"u":1.66,"R":210},{"T":220,"u":1.72,"R":170},{"T":220,"u":1.78,"R":140},{"T":220,"u":1.84,"R":120},{"T":220,"u":1.9,"R":105},{"T":220,"u":1.96,"R":95},{"T":220,"u":2.02,"R":88},
  {"T":320,"u":0.6,"R":5000},{"T":320,"u":0.66,"R":5400},{"T":320,"u":0.72,"R":5800},{"T":320,"u":0.78,"R":6100},{"T":320,"u":0.84,"R":6500},{"T":320,"u":0.9,"R":6800},{"T":320,"u":0.96,"R":7100},{"T":320,"u":1.02,"R":7400},{"T":320,"u":1.08,"R":7600},{"T":320,"u":1.14,"R":7900},{"T":320,"u":1.2,"R":8200},{"T":320,"u":1.26,"R":8500},{"T":320,"u":1.32,"R":8300},
  {"T":320,"u":0.86,"R":850},{"T":320,"u":0.92,"R":800},{"T":320,"u":0.98,"R":760},{"T":320,"u":1.04,"R":710},{"T":320,"u":1.1,"R":660},{"T":320,"u":1.16,"R":620},{"T":320,"u":1.22,"R":580},{"T":320,"u":1.28,"R":540},{"T":320,"u":1.34,"R":500},{"T":320,"u":1.4,"R":460},{"T":320,"u":1.46,"R":420},{"T":320,"u":1.52,"R":380},{"T":320,"u":1.58,"R":340},{"T":320,"u":1.64,"R":310},{"T":320,"u":1.7,"R":280},{"T":320,"u":1.76,"R":260},
  {"T":550,"u":0.34,"R":3700},{"T":550,"u":0.4,"R":4000},{"T":550,"u":0.46,"R":4400},{"T":550,"u":0.52,"R":4800},{"T":550,"u":0.58,"R":5200},{"T":550,"u":0.64,"R":5600},{"T":550,"u":0.7,"R":6000},{"T":550,"u":0.76,"R":6400},{"T":550,"u":0.82,"R":6800},
  {"T":550,"u":0.6,"R":1100},{"T":550,"u":0.66,"R":1050},{"T":550,"u":0.72,"R":1000},{"T":550,"u":0.78,"R":960},{"T":550,"u":0.84,"R":920},{"T":550,"u":0.9,"R":880},{"T":550,"u":0.96,"R":840},{"T":550,"u":1.02,"R":800},{"T":550,"u":1.08,"R":760},{"T":550,"u":1.14,"R":720},
  {"T":800,"u":0.18,"R":2700},{"T":800,"u":0.24,"R":3000},{"T":800,"u":0.3,"R":3300},{"T":800,"u":0.36,"R":3600},{"T":800,"u":0.42,"R":3950},{"T":800,"u":0.48,"R":4300},{"T":800,"u":0.54,"R":4700},{"T":800,"u":0.6,"R":5100},{"T":800,"u":0.66,"R":5500},
  {"T":800,"u":0.3,"R":1380},{"T":800,"u":0.36,"R":1320},{"T":800,"u":0.42,"R":1260},{"T":800,"u":0.48,"R":1200},{"T":800,"u":0.54,"R":1140},{"T":800,"u":0.6,"R":1090},{"T":800,"u":0.66,"R":1050},{"T":800,"u":0.72,"R":1010},{"T":800,"u":0.78,"R":970},
  {"T":1000,"u":0.02,"R":1900},{"T":1000,"u":0.04,"R":2000},{"T":1000,"u":0.06,"R":2050},{"T":1000,"u":0.08,"R":2150},{"T":1000,"u":0.1,"R":2200},{"T":1000,"u":0.12,"R":2250},{"T":1000,"u":0.14,"R":2350},{"T":1000,"u":0.16,"R":2450},{"T":1000,"u":0.18,"R":2500},{"T":1000,"u":0.2,"R":2600},{"T":1000,"u":0.22,"R":2750},{"T":1000,"u":0.24,"R":2800},{"T":1000,"u":0.26,"R":2900},{"T":1000,"u":0.28,"R":3000},{"T":1000,"u":0.3,"R":3150},{"T":1000,"u":0.32,"R":3250},{"T":1000,"u":0.34,"R":3300},{"T":1000,"u":0.36,"R":3450},{"T":1000,"u":0.38,"R":3550},{"T":1000,"u":0.4,"R":3650},{"T":1000,"u":0.42,"R":3750},{"T":1000,"u":0.44,"R":3850},{"T":1000,"u":0.46,"R":4000},{"T":1000,"u":0.48,"R":4150},{"T":1000,"u":0.5,"R":4300},{"T":1000,"u":0.52,"R":4450},{"T":1000,"u":0.54,"R":4700},
  {"T":1000,"u":0.02,"R":1850},{"T":1000,"u":0.05,"R":1780},{"T":1000,"u":0.08,"R":1700},{"T":1000,"u":0.11,"R":1650},{"T":1000,"u":0.14,"R":1600},{"T":1000,"u":0.17,"R":1560},{"T":1000,"u":0.2,"R":1500},{"T":1000,"u":0.24,"R":1450},{"T":1000,"u":0.28,"R":1400},{"T":1000,"u":0.32,"R":1350},{"T":1000,"u":0.36,"R":1300},{"T":1000,"u":0.4,"R":1250},{"T":1000,"u":0.44,"R":1200},{"T":1000,"u":0.48,"R":1170},{"T":1000,"u":0.52,"R":1130},{"T":1000,"u":0.56,"R":1100},{"T":1000,"u":0.6,"R":1070},{"T":1000,"u":0.65,"R":1030},{"T":1000,"u":0.7,"R":1000},{"T":1000,"u":0.75,"R":980}
 ]
},
"layer": [
 {
  "resolve": {"axis": {"x": "independent", "y": "independent"}},
  "layer": [
   {
    "data": {"name": "curves"},
    "mark": {"type": "line", "clip": true, "strokeWidth": 1.5, "strokeJoin": "round"},
    "encoding": {
     "x": {"field": "ne", "type": "quantitative", "scale": {"domain": [3, 9], "nice": false, "zero": false},
      "axis": {"orient": "bottom", "values": [4,5,6,7,8], "labelExpr": "datum.value % 2 == 0 ? format(datum.value, '.1f') : ''", "tickSize": -9, "labelPadding": 19, "labelFlush": false, "labelOverlap": false, "title": "nₑ (10¹² cm⁻²)", "titleX": 360, "titleY": 47, "titleAlign": "center", "titleBaseline": "middle"}},
     "y": {"field": "R", "type": "quantitative", "scale": {"type": "log", "domain": [0.1, 5200000], "nice": false},
      "axis": {"orient": "left", "values": [1,10,100,1000,10000,100000,1000000],
       "labelExpr": "'10' + ['⁰','¹','²','³','⁴','⁵','⁶'][round(log(datum.value)/LN10)]",
       "tickSize": -10, "labelPadding": 17, "labelOverlap": false, "title": "Rₓₓ (Ω)", "titleX": -63, "titleY": 324, "titleAngle": -90, "titleAlign": "center", "titleBaseline": "middle"}},
     "color": {"field": "T", "type": "nominal", "scale": {"domain": [100,200,300,400,1000], "range": ["#3752a2","#418bcb","#5ac1a0","#6ab842","#e42a2b"]}, "legend": null}
    }
   },
   {
    "data": {"name": "lineLabels"},
    "mark": {"type": "text", "align": "right", "baseline": "middle", "fontSize": 22},
    "encoding": {
     "x": {"field": "ne", "type": "quantitative", "scale": {"domain": [3, 9], "nice": false, "zero": false}, "axis": null},
     "y": {"field": "R", "type": "quantitative", "scale": {"type": "log", "domain": [0.1, 5200000], "nice": false}, "axis": null},
     "text": {"field": "lab"},
     "color": {"field": "T", "type": "nominal", "scale": {"domain": [100,200,300,400,1000], "range": ["#3752a2","#418bcb","#5ac1a0","#6ab842","#e42a2b"]}, "legend": null}
    }
   },
   {
    "data": {"name": "lineLabels"},
    "mark": {"type": "point", "opacity": 0},
    "encoding": {
     "x": {"field": "ne", "type": "quantitative", "scale": {"domain": [3, 9], "nice": false, "zero": false},
      "axis": {"orient": "top", "values": [4,5,6,7,8], "labels": false, "tickSize": -9, "title": null}},
     "y": {"field": "R", "type": "quantitative", "scale": {"type": "log", "domain": [0.1, 5200000], "nice": false},
      "axis": {"orient": "right", "values": [1,10,100,1000,10000,100000,1000000], "labels": false, "tickSize": -10, "domain": false, "title": null}}
    }
   },
   {
    "data": {"name": "lineLabels"},
    "mark": {"type": "point", "opacity": 0},
    "encoding": {
     "x": {"field": "ne", "type": "quantitative", "scale": {"domain": [3, 9], "nice": false, "zero": false}, "axis": null},
     "y": {"field": "R", "type": "quantitative", "scale": {"type": "log", "domain": [0.1, 5200000], "nice": false},
      "axis": {"orient": "left", "values": [0.2,0.3,0.4,0.5,0.6,0.7,0.8,0.9,2,3,4,5,6,7,8,9,20,30,40,50,60,70,80,90,200,300,400,500,600,700,800,900,2000,3000,4000,5000,6000,7000,8000,9000,20000,30000,40000,50000,60000,70000,80000,90000,200000,300000,400000,500000,600000,700000,800000,900000,2000000,3000000,4000000,5000000], "labels": false, "tickSize": -5, "domain": false, "title": null}}
    }
   }
  ]
 },
 {
  "resolve": {"axis": {"x": "independent", "y": "independent"}},
  "layer": [
   {
    "data": {"name": "phase"},
    "mark": {"type": "rect", "color": {"gradient": "linear", "x1": 0, "y1": 0, "x2": 1, "y2": 0, "stops": [
      {"offset": 0, "color": "#22a7e0"}, {"offset": 0.1, "color": "#2aa9e0"}, {"offset": 0.16, "color": "#4eaede"}, {"offset": 0.22, "color": "#6fb4db"}, {"offset": 0.32, "color": "#8dbcd9"}, {"offset": 0.42, "color": "#a6c4d6"}, {"offset": 0.52, "color": "#b9c9d5"}, {"offset": 0.62, "color": "#c9ccd5"}, {"offset": 0.75, "color": "#d0d0d5"}, {"offset": 1, "color": "#d3d3d6"}]}},
    "encoding": {
     "x": {"field": "n0", "type": "quantitative", "scale": {"domain": [0, 10], "range": [404, 700], "nice": false, "zero": false},
      "axis": {"orient": "bottom", "offset": -487, "values": [0, 2.5, 5, 7.5, 10], "labelExpr": "datum.value == 0 || datum.value == 10 ? format(datum.value, 'd') : ''", "tickSize": -8, "labelPadding": 12, "labelFlush": false, "labelOverlap": false, "title": "nₑ (10¹² cm⁻²)", "titleX": 559, "titleY": 39, "titleAlign": "center", "titleBaseline": "middle"}},
     "x2": {"field": "n1"},
     "y": {"field": "t0", "type": "quantitative", "scale": {"type": "log", "domain": [0.01, 6.14], "range": [204, 20], "nice": false},
      "axis": {"orient": "left", "offset": -404, "values": [0.1, 1],
       "labelExpr": "datum.value > 0.5 ? '1' : '0.1'",
       "tickSize": -8, "labelPadding": 22, "labelOverlap": false, "title": "T (K)", "titleX": -59, "titleY": 93, "titleAngle": -90, "titleAlign": "center", "titleBaseline": "middle"}},
     "y2": {"field": "t1"}
    }
   },
   {
    "data": {"name": "phase"},
    "mark": {"type": "rect", "color": {"gradient": "linear", "x1": 0, "y1": 0, "x2": 1.389, "y2": 0.794, "stops": [
      {"offset": 0, "color": "rgba(108,54,150,0)"}, {"offset": 0.59, "color": "rgba(108,54,150,0)"}, {"offset": 0.608, "color": "rgba(108,54,150,0.25)"}, {"offset": 0.627, "color": "rgba(108,54,150,0.6)"}, {"offset": 0.65, "color": "rgba(108,54,150,0.9)"}, {"offset": 0.668, "color": "rgba(108,54,150,1)"}, {"offset": 1, "color": "rgba(108,54,150,1)"}]}},
    "encoding": {
     "x": {"field": "n0", "type": "quantitative", "scale": {"domain": [0, 10], "range": [404, 700], "nice": false, "zero": false}, "axis": null},
     "x2": {"field": "n1"},
     "y": {"field": "t0", "type": "quantitative", "scale": {"type": "log", "domain": [0.01, 6.14], "range": [204, 20], "nice": false}, "axis": null},
     "y2": {"field": "t1"}
    }
   },
   {
    "data": {"name": "dashes"},
    "mark": {"type": "rule", "strokeDash": [7, 4], "color": "#2a2a2a", "strokeWidth": 1.3},
    "encoding": {
     "x": {"field": "n0", "type": "quantitative", "scale": {"domain": [0, 10], "range": [404, 700], "nice": false, "zero": false}, "axis": null},
     "x2": {"field": "n1"},
     "y": {"field": "T", "type": "quantitative", "scale": {"type": "log", "domain": [0.01, 6.14], "range": [204, 20], "nice": false}, "axis": null}
    }
   },
   {
    "data": {"values": [{"lab": "metal", "n": 8.38, "T": 2.49}]},
    "mark": {"type": "text", "fontSize": 22, "color": "#111111", "baseline": "middle"},
    "encoding": {
     "x": {"field": "n", "type": "quantitative", "scale": {"domain": [0, 10], "range": [404, 700], "nice": false, "zero": false}, "axis": null},
     "y": {"field": "T", "type": "quantitative", "scale": {"type": "log", "domain": [0.01, 6.14], "range": [204, 20], "nice": false}, "axis": null},
     "text": {"field": "lab"}
    }
   },
   {
    "data": {"values": [{"lab": "TI", "n": 1.0, "T": 0.026}, {"lab": "SC", "n": 8.95, "T": 0.026}]},
    "mark": {"type": "text", "fontSize": 22, "color": "white", "baseline": "middle"},
    "encoding": {
     "x": {"field": "n", "type": "quantitative", "scale": {"domain": [0, 10], "range": [404, 700], "nice": false, "zero": false}, "axis": null},
     "y": {"field": "T", "type": "quantitative", "scale": {"type": "log", "domain": [0.01, 6.14], "range": [204, 20], "nice": false}, "axis": null},
     "text": {"field": "lab"}
    }
   },
   {
    "data": {"name": "phase"},
    "mark": {"type": "point", "opacity": 0},
    "encoding": {
     "x": {"field": "n0", "type": "quantitative", "scale": {"domain": [0, 10], "range": [404, 700], "nice": false, "zero": false},
      "axis": {"orient": "top", "offset": -20, "values": [2.5, 5, 7.5], "labels": false, "tickSize": -8, "title": null}},
     "y": {"field": "t0", "type": "quantitative", "scale": {"type": "log", "domain": [0.01, 6.14], "range": [204, 20], "nice": false},
      "axis": {"orient": "right", "offset": -26, "values": [0.1, 1], "labels": false, "tickSize": -8, "title": null}}
    }
   },
   {
    "data": {"name": "phase"},
    "mark": {"type": "point", "opacity": 0},
    "encoding": {
     "x": {"field": "n0", "type": "quantitative", "scale": {"domain": [0, 10], "range": [404, 700], "nice": false, "zero": false}, "axis": null},
     "y": {"field": "t0", "type": "quantitative", "scale": {"type": "log", "domain": [0.01, 6.14], "range": [204, 20], "nice": false},
      "axis": {"orient": "left", "offset": -404, "values": [0.02,0.03,0.04,0.05,0.06,0.07,0.08,0.09,0.2,0.3,0.4,0.5,0.6,0.7,0.8,0.9,2,3,4,5,6], "labels": false, "tickSize": -4, "domain": false, "title": null}}
    }
   },
   {
    "data": {"name": "phase"},
    "mark": {"type": "point", "opacity": 0},
    "encoding": {
     "x": {"field": "n0", "type": "quantitative", "scale": {"domain": [0, 10], "range": [404, 700], "nice": false, "zero": false}, "axis": null},
     "y": {"field": "t0", "type": "quantitative", "scale": {"type": "log", "domain": [0.01, 6.14], "range": [204, 20], "nice": false},
      "axis": {"orient": "right", "offset": -26, "values": [0.02,0.03,0.04,0.05,0.06,0.07,0.08,0.09,0.2,0.3,0.4,0.5,0.6,0.7,0.8,0.9,2,3,4,5,6], "labels": false, "tickSize": -4, "domain": false, "title": null}}
    }
   }
  ]
 },
 {
  "resolve": {"axis": {"x": "independent", "y": "independent"}},
  "layer": [
   {
    "data": {"name": "scatter"},
    "mark": {"type": "circle", "size": 17, "opacity": 1},
    "encoding": {
     "x": {"field": "u", "type": "quantitative", "scale": {"domain": [0, 4.34], "range": [68, 337], "nice": false, "zero": false},
      "axis": {"orient": "bottom", "offset": -70, "values": [0,1,2,3,4], "labelExpr": "datum.value % 2 == 0 ? format(datum.value, 'd') : ''", "tickSize": -8, "labelPadding": 13, "labelFlush": false, "labelOverlap": false, "title": null}},
     "y": {"field": "R", "type": "quantitative", "scale": {"type": "log", "domain": [1, 100000], "range": [621, 376], "nice": false},
      "axis": {"orient": "left", "offset": -68, "values": [10,100,1000,10000,100000],
       "labelExpr": "datum.value == 100000 ? '10⁵' : (datum.value == 10 ? '10¹' : '')",
       "tickSize": -8, "labelPadding": 11, "labelOverlap": false, "title": "Rₓₓ (Ω)", "titleX": -28, "titleY": 476, "titleAngle": -90, "titleAlign": "center", "titleBaseline": "middle"}},
     "fill": {"field": "T", "type": "quantitative",
      "scale": {"type": "log", "domain": [99.5, 1005], "range": ["#463a99","#2d4aa0","#1e78c2","#29b6e7","#5ec09c","#6fbe47","#b9d535","#f6e51a","#f8981d","#e8212a"]},
      "legend": {"orient": "none", "legendX": 87, "legendY": 295, "direction": "horizontal", "title": "T (mK)", "titleFontSize": 22, "titleFontWeight": "normal", "titleAnchor": "middle", "titleColor": "#1a1a1a", "titlePadding": 6, "titleFont": "Liberation Sans", "gradientLength": 129, "gradientThickness": 8, "gradientStrokeWidth": 0, "values": [100, 1000], "format": "d", "labelFontSize": 22, "labelFont": "Liberation Sans", "labelOffset": 8, "labelColor": "#1a1a1a", "padding": 0}}
    }
   },
   {
    "data": {"values": [{}]},
    "mark": {"type": "text", "text": "α~0.8 ± 0.1", "fontSize": 22, "align": "center", "baseline": "middle", "color": "#1a1a1a"},
    "encoding": {
     "x": {"datum": 1.42, "type": "quantitative", "scale": {"domain": [0, 4.34], "range": [68, 337], "nice": false, "zero": false}, "axis": null},
     "y": {"datum": 5.97, "type": "quantitative", "scale": {"type": "log", "domain": [1, 100000], "range": [621, 376], "nice": false}, "axis": null}
    }
   },
   {
    "data": {"values": [{}]},
    "mark": {"type": "text", "text": "|nₑ-n", "fontSize": 22, "align": "right", "baseline": "middle", "color": "#1a1a1a"},
    "encoding": {
     "x": {"datum": 1.758, "type": "quantitative", "scale": {"domain": [0, 4.34], "range": [68, 337], "nice": false, "zero": false}, "axis": null},
     "y": {"datum": 0.176, "type": "quantitative", "scale": {"type": "log", "domain": [1, 100000], "range": [621, 376], "nice": false}, "axis": null}
    }
   },
   {
    "data": {"values": [{}]},
    "mark": {"type": "text", "text": "crit", "fontSize": 14, "align": "left", "baseline": "middle", "dx": 1, "dy": 8, "color": "#1a1a1a"},
    "encoding": {
     "x": {"datum": 1.758, "type": "quantitative", "scale": {"domain": [0, 4.34], "range": [68, 337], "nice": false, "zero": false}, "axis": null},
     "y": {"datum": 0.176, "type": "quantitative", "scale": {"type": "log", "domain": [1, 100000], "range": [621, 376], "nice": false}, "axis": null}
    }
   },
   {
    "data": {"values": [{}]},
    "mark": {"type": "text", "text": "| • T", "fontSize": 22, "align": "left", "baseline": "middle", "dx": 20, "color": "#1a1a1a"},
    "encoding": {
     "x": {"datum": 1.758, "type": "quantitative", "scale": {"domain": [0, 4.34], "range": [68, 337], "nice": false, "zero": false}, "axis": null},
     "y": {"datum": 0.176, "type": "quantitative", "scale": {"type": "log", "domain": [1, 100000], "range": [621, 376], "nice": false}, "axis": null}
    }
   },
   {
    "data": {"values": [{}]},
    "mark": {"type": "text", "text": "-α", "fontSize": 14, "align": "left", "baseline": "middle", "dx": 58, "dy": -8, "color": "#1a1a1a"},
    "encoding": {
     "x": {"datum": 1.758, "type": "quantitative", "scale": {"domain": [0, 4.34], "range": [68, 337], "nice": false, "zero": false}, "axis": null},
     "y": {"datum": 0.176, "type": "quantitative", "scale": {"type": "log", "domain": [1, 100000], "range": [621, 376], "nice": false}, "axis": null}
    }
   },
   {
    "data": {"values": [{"u": 1, "R": 100}]},
    "mark": {"type": "point", "opacity": 0},
    "encoding": {
     "x": {"field": "u", "type": "quantitative", "scale": {"domain": [0, 4.34], "range": [68, 337], "nice": false, "zero": false},
      "axis": {"orient": "top", "offset": -376, "values": [1,2,3,4], "labels": false, "tickSize": -8, "title": null}},
     "y": {"field": "R", "type": "quantitative", "scale": {"type": "log", "domain": [1, 100000], "range": [621, 376], "nice": false},
      "axis": {"orient": "right", "offset": -389, "values": [10,100,1000,10000,100000], "labels": false, "tickSize": -8, "title": null}}
    }
   },
   {
    "data": {"values": [{"u": 1, "R": 100}]},
    "mark": {"type": "point", "opacity": 0},
    "encoding": {
     "x": {"field": "u", "type": "quantitative", "scale": {"domain": [0, 4.34], "range": [68, 337], "nice": false, "zero": false}, "axis": null},
     "y": {"field": "R", "type": "quantitative", "scale": {"type": "log", "domain": [1, 100000], "range": [621, 376], "nice": false},
      "axis": {"orient": "left", "offset": -68, "values": [2,3,4,5,6,7,8,9,20,30,40,50,60,70,80,90,200,300,400,500,600,700,800,900,2000,3000,4000,5000,6000,7000,8000,9000,20000,30000,40000,50000,60000,70000,80000,90000], "labels": false, "tickSize": -4, "domain": false, "title": null}}
    }
   },
   {
    "data": {"values": [{"u": 1, "R": 100}]},
    "mark": {"type": "point", "opacity": 0},
    "encoding": {
     "x": {"field": "u", "type": "quantitative", "scale": {"domain": [0, 4.34], "range": [68, 337], "nice": false, "zero": false}, "axis": null},
     "y": {"field": "R", "type": "quantitative", "scale": {"type": "log", "domain": [1, 100000], "range": [621, 376], "nice": false},
      "axis": {"orient": "right", "offset": -389, "values": [2,3,4,5,6,7,8,9,20,30,40,50,60,70,80,90,200,300,400,500,600,700,800,900,2000,3000,4000,5000,6000,7000,8000,9000,20000,30000,40000,50000,60000,70000,80000,90000], "labels": false, "tickSize": -4, "domain": false, "title": null}}
    }
   }
  ]
 }
],
"resolve": {"scale": {"x": "independent", "y": "independent"}, "axis": {"x": "independent", "y": "independent"}}
}
